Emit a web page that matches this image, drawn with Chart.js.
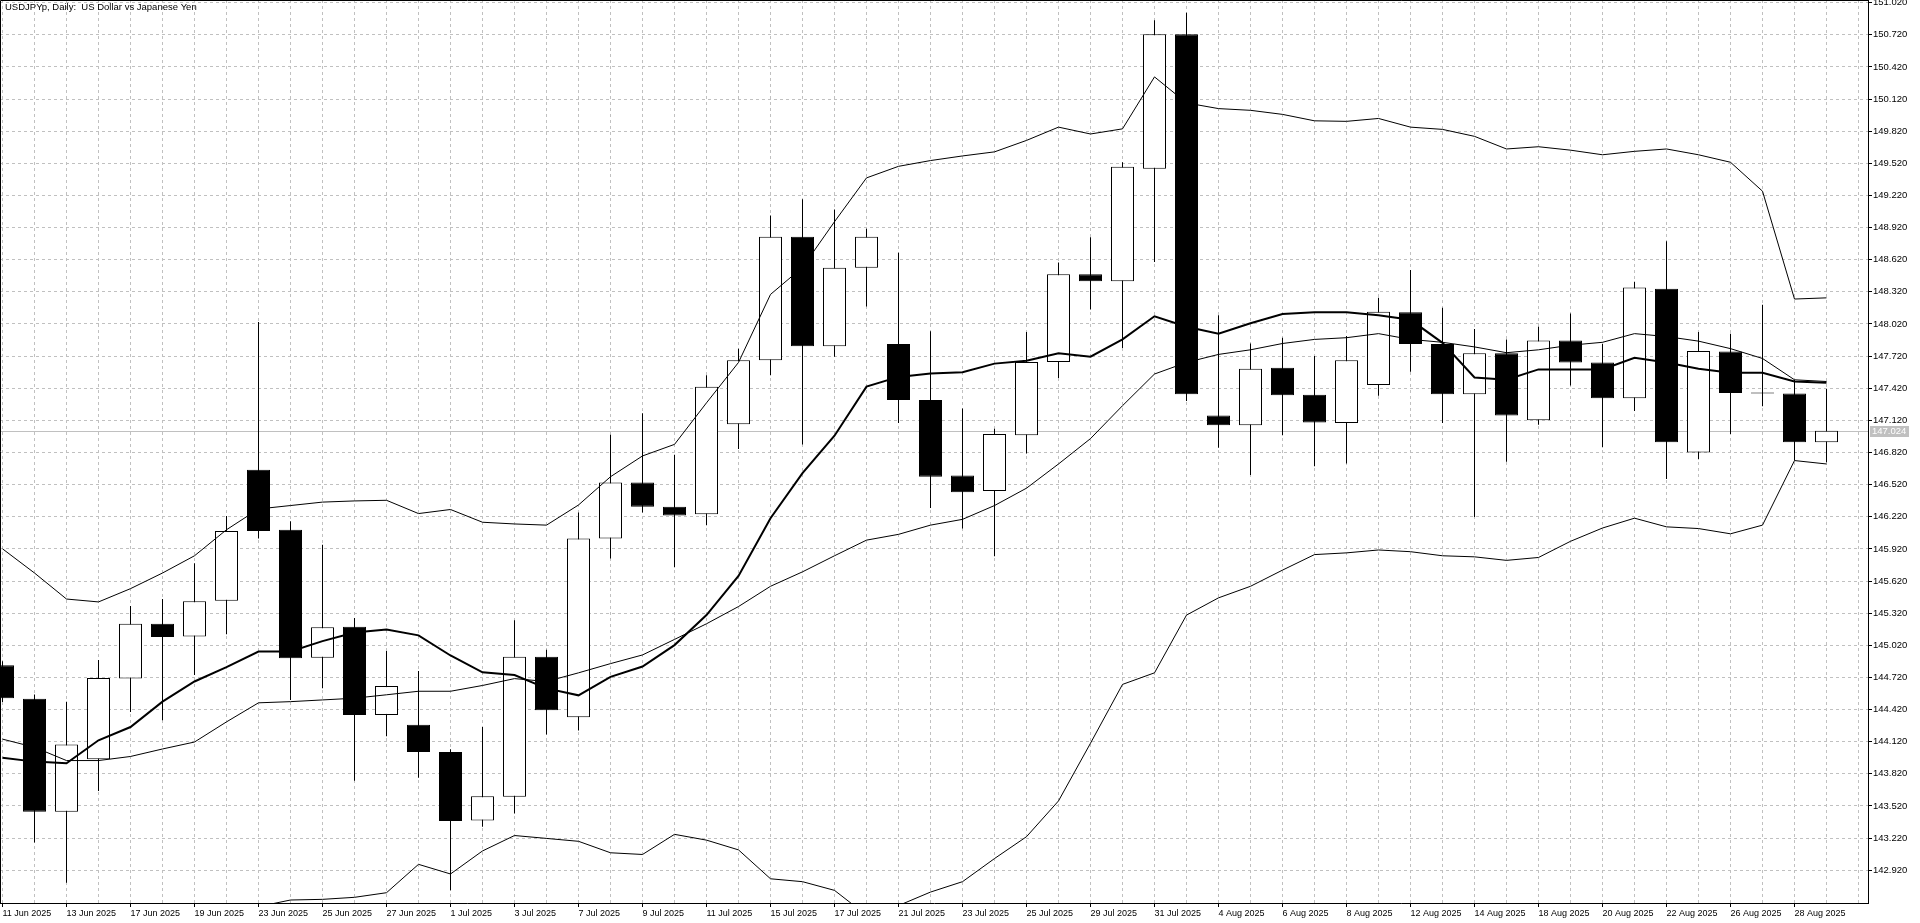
<!DOCTYPE html>
<html lang="en">
<head>
    <meta charset="UTF-8">
    <title>USDJPYp, Daily</title>
    <script src="https://cdn.jsdelivr.net/npm/chart.js"></script>
    <style>
        html, body {
            margin: 0;
            padding: 0;
            background: #fff;
            overflow: hidden;
        }

        #priceChart {
            display: block;
        }
    </style>
</head>
<body>
    <canvas id="priceChart" width="1920" height="923"></canvas>

    <script>
        const chartTitle = "USDJPYp, Daily:  US Dollar vs Japanese Yen";

        const dates = [
            "11 Jun 2025", "12 Jun 2025", "13 Jun 2025", "16 Jun 2025", "17 Jun 2025", "18 Jun 2025",
            "19 Jun 2025", "20 Jun 2025", "23 Jun 2025", "24 Jun 2025", "25 Jun 2025", "26 Jun 2025",
            "27 Jun 2025", "30 Jun 2025", "1 Jul 2025", "2 Jul 2025", "3 Jul 2025", "4 Jul 2025",
            "7 Jul 2025", "8 Jul 2025", "9 Jul 2025", "10 Jul 2025", "11 Jul 2025", "14 Jul 2025",
            "15 Jul 2025", "16 Jul 2025", "17 Jul 2025", "18 Jul 2025", "21 Jul 2025", "22 Jul 2025",
            "23 Jul 2025", "24 Jul 2025", "25 Jul 2025", "28 Jul 2025", "29 Jul 2025", "30 Jul 2025",
            "31 Jul 2025", "1 Aug 2025", "4 Aug 2025", "5 Aug 2025", "6 Aug 2025", "7 Aug 2025",
            "8 Aug 2025", "11 Aug 2025", "12 Aug 2025", "13 Aug 2025", "14 Aug 2025", "15 Aug 2025",
            "18 Aug 2025", "19 Aug 2025", "20 Aug 2025", "21 Aug 2025", "22 Aug 2025", "25 Aug 2025",
            "26 Aug 2025", "27 Aug 2025", "28 Aug 2025", "29 Aug 2025"
        ];

        const openPrices = [
            144.833, 144.521, 143.465, 143.955, 144.709, 145.221, 145.102, 145.436, 146.659, 146.099,
            144.903, 145.194, 144.370, 144.278, 144.025, 143.384, 143.605, 144.914, 144.348, 146.018,
            146.540, 146.314, 146.244, 147.084, 147.682, 148.835, 147.812, 148.544, 147.833, 147.311,
            146.605, 146.460, 146.982, 147.666, 148.485, 148.420, 149.470, 150.725, 147.165, 147.074,
            147.612, 147.360, 147.095, 147.451, 148.129, 147.833, 147.365, 147.747, 147.122, 147.865,
            147.661, 147.327, 148.350, 146.821, 147.763, 147.380, 147.371, 146.917
        ];
        const highPrices = [
            144.870, 144.560, 144.494, 144.882, 145.388, 145.452, 145.786, 146.228, 148.038, 146.179,
            145.959, 145.275, 144.968, 144.779, 144.050, 144.257, 145.253, 144.979, 146.260, 146.987,
            147.187, 146.799, 147.542, 147.790, 149.034, 149.185, 149.088, 148.910, 148.684, 147.952,
            147.230, 147.041, 147.946, 148.593, 148.830, 149.530, 150.855, 150.925, 148.102, 147.838,
            147.892, 147.720, 147.909, 148.264, 148.523, 148.172, 147.973, 147.876, 147.995, 148.119,
            147.833, 148.415, 148.792, 147.946, 147.930, 148.199, 147.499, 147.413
        ];
        const lowPrices = [
            144.490, 143.180, 142.803, 143.659, 144.397, 144.321, 144.742, 145.124, 146.018, 144.510,
            144.618, 143.756, 144.171, 143.783, 142.732, 143.325, 143.449, 144.187, 144.224, 145.830,
            146.260, 145.749, 146.142, 146.853, 147.542, 146.896, 147.715, 148.183, 147.095, 146.303,
            146.110, 145.851, 146.810, 147.515, 148.156, 147.795, 148.598, 147.300, 146.864, 146.610,
            146.982, 146.691, 146.718, 147.349, 147.575, 147.095, 146.217, 146.734, 147.079, 147.445,
            146.869, 147.208, 146.573, 146.756, 146.993, 147.251, 146.745, 146.729
        ];
        const closePrices = [
            144.526, 143.465, 144.095, 144.715, 145.221, 145.097, 145.431, 146.088, 146.088, 144.898,
            145.189, 144.370, 144.639, 144.025, 143.379, 143.610, 144.914, 144.413, 146.018, 146.540,
            146.314, 146.233, 147.435, 147.682, 148.835, 147.812, 148.544, 148.835, 147.311, 146.594,
            146.449, 146.993, 147.666, 148.485, 148.420, 149.487, 150.725, 147.365, 147.074, 147.602,
            147.354, 147.101, 147.682, 148.135, 147.833, 147.365, 147.747, 147.165, 147.865, 147.661,
            147.327, 148.361, 146.917, 147.768, 147.375, 147.370, 146.917, 147.024
        ];

        const maLine = [
            143.971, 143.934, 143.918, 144.133, 144.257, 144.494, 144.682, 144.817, 144.962, 144.962,
            145.059, 145.140, 145.167, 145.113, 144.925, 144.768, 144.742, 144.618, 144.553, 144.725,
            144.822, 145.022, 145.302, 145.668, 146.207, 146.627, 146.977, 147.435, 147.526, 147.558,
            147.569, 147.650, 147.677, 147.747, 147.715, 147.876, 148.092, 147.995, 147.930, 148.027,
            148.113, 148.129, 148.129, 148.102, 148.059, 147.844, 147.521, 147.499, 147.596, 147.596,
            147.596, 147.704, 147.661, 147.602, 147.564, 147.564, 147.483, 147.472
        ];
        const bandMiddle = [
            144.144, 144.068, 143.944, 143.944, 143.982, 144.052, 144.117, 144.305, 144.483, 144.494,
            144.510, 144.526, 144.558, 144.591, 144.591, 144.645, 144.709, 144.682, 144.763, 144.849,
            144.930, 145.075, 145.221, 145.382, 145.571, 145.706, 145.856, 146.002, 146.056, 146.142,
            146.196, 146.325, 146.487, 146.713, 146.950, 147.257, 147.553, 147.661, 147.736, 147.779,
            147.838, 147.876, 147.892, 147.930, 147.876, 147.849, 147.806, 147.752, 147.779, 147.822,
            147.849, 147.930, 147.903, 147.860, 147.790, 147.698, 147.499, 147.483
        ];
        const bandUpper = [
            145.921, 145.695, 145.452, 145.425, 145.549, 145.695, 145.856, 146.099, 146.293, 146.325,
            146.357, 146.368, 146.374, 146.250, 146.288, 146.169, 146.153, 146.142, 146.330, 146.594,
            146.788, 146.896, 147.284, 147.661, 148.296, 148.549, 148.975, 149.384, 149.492, 149.546,
            149.589, 149.627, 149.734, 149.858, 149.794, 149.842, 150.327, 150.084, 150.031, 150.015,
            149.977, 149.917, 149.912, 149.939, 149.858, 149.837, 149.772, 149.654, 149.675, 149.643,
            149.600, 149.632, 149.654, 149.600, 149.530, 149.260, 148.253, 148.264
        ];
        const bandLower = [
            142.370, 142.440, 142.440, 142.460, 142.420, 142.410, 142.380, 142.510, 142.580, 142.642,
            142.648, 142.667, 142.710, 142.975, 142.885, 143.100, 143.244, 143.217, 143.190, 143.083,
            143.067, 143.255, 143.201, 143.110, 142.840, 142.813, 142.732, 142.500, 142.590, 142.716,
            142.813, 143.029, 143.233, 143.567, 144.106, 144.655, 144.763, 145.302, 145.463, 145.571,
            145.722, 145.867, 145.883, 145.910, 145.894, 145.856, 145.846, 145.813, 145.840, 145.991,
            146.115, 146.207, 146.126, 146.110, 146.061, 146.142, 146.745, 146.713
        ];

        const priceTicks = [
            142.92, 143.22, 143.52, 143.82, 144.12, 144.42, 144.72, 145.02, 145.32, 145.62,
            145.92, 146.22, 146.52, 146.82, 147.12, 147.42, 147.72, 148.02, 148.32, 148.62,
            148.92, 149.22, 149.52, 149.82, 150.12, 150.42, 150.72, 151.02
        ];
        const lastPrice = 147.024;

        const FONT = "Liberation Sans";

        // gray bid line, frame, title and the price tag on the axis
        const chartDecor = {
            id: "chartDecor",
            beforeDatasetsDraw(chart) {
                const { ctx, chartArea: a, scales: { y } } = chart;
                const py = Math.round(y.getPixelForValue(lastPrice)) + 0.5;
                ctx.save();
                ctx.strokeStyle = "#c0c0c0";
                ctx.lineWidth = 1;
                ctx.beginPath();
                ctx.moveTo(a.left, py);
                ctx.lineTo(a.right, py);
                ctx.stroke();
                ctx.restore();
            },
            afterDraw(chart) {
                const { ctx, chartArea: a, scales: { y } } = chart;
                ctx.save();
                ctx.strokeStyle = "#000";
                ctx.lineWidth = 1;
                ctx.beginPath();
                ctx.moveTo(0.5, a.bottom);
                ctx.lineTo(0.5, 0.5);
                ctx.lineTo(a.right, 0.5);
                ctx.stroke();

                ctx.fillStyle = "#000";
                ctx.font = "9.5px '" + FONT + "'";
                ctx.textBaseline = "top";
                ctx.textAlign = "left";
                ctx.fillText(chartTitle, 5, 3);

                const py = Math.round(y.getPixelForValue(lastPrice));
                ctx.fillStyle = "#c0c0c0";
                ctx.fillRect(a.right + 2, py - 5, 39, 11);
                ctx.fillStyle = "#fff";
                ctx.textBaseline = "middle";
                ctx.fillText(lastPrice.toFixed(3), a.right + 4, py + 0.5);
                ctx.restore();
            }
        };

        function drawCandleChart(id) {
            const idx = dates.map((d, i) => i);
            const ctx = document.getElementById(id).getContext("2d");

            new Chart(ctx, {
                type: "bar",
                data: {
                    datasets: [
                        {
                            type: "line",
                            label: "MA",
                            data: idx.map(i => ({ x: i, y: maLine[i] })),
                            borderColor: "#000",
                            borderWidth: 2,
                            pointRadius: 0,
                            tension: 0,
                            order: 0
                        },
                        {
                            type: "line",
                            label: "BB upper",
                            data: idx.map(i => ({ x: i, y: bandUpper[i] })),
                            borderColor: "#000",
                            borderWidth: 1,
                            pointRadius: 0,
                            tension: 0,
                            order: 1
                        },
                        {
                            type: "line",
                            label: "BB middle",
                            data: idx.map(i => ({ x: i, y: bandMiddle[i] })),
                            borderColor: "#000",
                            borderWidth: 1,
                            pointRadius: 0,
                            tension: 0,
                            order: 1
                        },
                        {
                            type: "line",
                            label: "BB lower",
                            data: idx.map(i => ({ x: i, y: bandLower[i] })),
                            borderColor: "#000",
                            borderWidth: 1,
                            pointRadius: 0,
                            tension: 0,
                            order: 1
                        },
                        {
                            label: "bodies",
                            data: idx.map(i => ({ x: i, y: [openPrices[i], closePrices[i]] })),
                            backgroundColor: idx.map(i => closePrices[i] >= openPrices[i] ? "#fff" : "#000"),
                            borderColor: "#000",
                            borderWidth: 1,
                            borderSkipped: false,
                            barThickness: 23,
                            inflateAmount: 0,
                            grouped: false,
                            order: 2
                        },
                        {
                            label: "wicks",
                            data: idx.map(i => ({ x: i, y: [lowPrices[i], highPrices[i]] })),
                            backgroundColor: "#000",
                            borderWidth: 0,
                            barThickness: 1,
                            inflateAmount: 0,
                            grouped: false,
                            order: 3
                        }
                    ]
                },
                options: {
                    responsive: false,
                    animation: false,
                    devicePixelRatio: 1,
                    layout: { padding: 0 },
                    plugins: {
                        legend: { display: false },
                        tooltip: { enabled: false }
                    },
                    scales: {
                        x: {
                            type: "linear",
                            position: "bottom",
                            offset: false,
                            min: -0.078125,
                            max: 58.296875,
                            afterBuildTicks: scale => {
                                const ticks = [];
                                for (let i = 0; i <= 58; i++) ticks.push({ value: i });
                                scale.ticks = ticks;
                            },
                            afterFit: scale => {
                                scale.height = 20;
                                scale.paddingLeft = 0;
                                scale.paddingRight = 0;
                            },
                            grid: {
                                offset: false,
                                color: "#c0c0c0",
                                lineWidth: 1,
                                drawTicks: true,
                                tickLength: 4,
                                tickBorderDash: [],
                                tickColor: c => (c.tick && c.tick.value % 2 === 0 && dates[c.tick.value]) ? "#000" : "rgba(0,0,0,0)"
                            },
                            border: { display: true, color: "#000", width: 1, dash: [3, 3] },
                            ticks: {
                                autoSkip: false,
                                maxRotation: 0,
                                minRotation: 0,
                                align: "start",
                                padding: 1,
                                color: "#000",
                                font: { family: FONT, size: 9 },
                                callback: v => (v % 2 === 0 && dates[v]) ? dates[v] : ""
                            }
                        },
                        y: {
                            type: "linear",
                            position: "right",
                            min: 142.614,
                            max: 151.045,
                            afterBuildTicks: scale => {
                                scale.ticks = priceTicks.map(v => ({ value: v }));
                            },
                            afterFit: scale => {
                                scale.width = 52;
                                scale.paddingTop = 0;
                                scale.paddingBottom = 0;
                            },
                            grid: {
                                color: "#c0c0c0",
                                lineWidth: 1,
                                drawTicks: true,
                                tickLength: 4,
                                tickBorderDash: [],
                                tickColor: "#000"
                            },
                            border: { display: true, color: "#000", width: 1, dash: [3, 3] },
                            ticks: {
                                padding: 1,
                                color: "#000",
                                font: { family: FONT, size: 9.5 },
                                callback: v => Number(v).toFixed(3)
                            }
                        }
                    }
                },
                plugins: [chartDecor]
            });
        }

        document.addEventListener("DOMContentLoaded", () => {
            drawCandleChart("priceChart");
        });
    </script>
</body>
</html>
